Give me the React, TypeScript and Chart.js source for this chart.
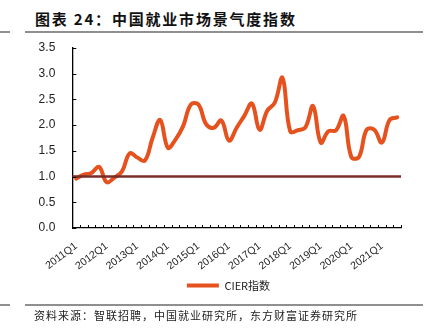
import React, { useEffect, useRef } from "react";
import { Chart, registerables } from "chart.js";

Chart.register(...registerables);

const categories = [
  "2011Q1", "2011Q2", "2011Q3", "2011Q4",
  "2012Q1", "2012Q2", "2012Q3", "2012Q4",
  "2013Q1", "2013Q2", "2013Q3", "2013Q4",
  "2014Q1", "2014Q2", "2014Q3", "2014Q4",
  "2015Q1", "2015Q2", "2015Q3", "2015Q4",
  "2016Q1", "2016Q2", "2016Q3", "2016Q4",
  "2017Q1", "2017Q2", "2017Q3", "2017Q4",
  "2018Q1", "2018Q2", "2018Q3", "2018Q4",
  "2019Q1", "2019Q2", "2019Q3", "2019Q4",
  "2020Q1", "2020Q2", "2020Q3", "2020Q4",
  "2021Q1", "2021Q2", "2021Q3",
];

const cierIndex = [
  0.96, 1.04, 1.07, 1.19,
  0.89, 0.98, 1.10, 1.45,
  1.37, 1.31, 1.75, 2.10,
  1.56, 1.72, 1.98, 2.40,
  2.40, 2.02, 1.95, 2.09,
  1.70, 1.95, 2.18, 2.42,
  1.91, 2.28, 2.44, 2.92,
  1.88, 1.90, 1.96, 2.37,
  1.66, 1.88, 1.90, 2.18,
  1.38, 1.38, 1.91, 1.91,
  1.66, 2.10, 2.15,
];

const thresholdValue = 1.0;
const yMin = 0;
const yMax = 3.5;
const yStep = 0.5;
const labelEvery = 4;

const seriesLabel = "CIER指数";
const titleText = "图表 24：中国就业市场景气度指数";
const sourceText = "资料来源：智联招聘，中国就业研究所，东方财富证券研究所";

const ORANGE = "#E6521E";
const BROWN = "#7A2C2A";
const FONT = "'Liberation Sans', Arial, sans-serif";
const CJK = "'Noto Sans CJK SC', 'Noto Sans', sans-serif";

const decorPlugin = {
  id: "decor",
  afterLayout(chart: any) {
    const lg = chart.legend;
    if (lg) {
      const shift = 24;
      lg.left += shift;
      lg.width -= shift;
    }
  },
  afterDatasetsDraw(chart: any) {
    const { ctx, chartArea, scales } = chart;
    const y = scales.y;
    ctx.save();
    const ty = y.getPixelForValue(thresholdValue);
    ctx.strokeStyle = BROWN;
    ctx.lineWidth = 2.5;
    ctx.beginPath();
    ctx.moveTo(chartArea.left, ty);
    ctx.lineTo(chartArea.right, ty);
    ctx.stroke();
    ctx.restore();
  },
  afterDraw(chart: any) {
    const { ctx, chartArea, scales } = chart;
    const x = scales.x;
    const y = scales.y;
    ctx.save();
    ctx.strokeStyle = "#000";
    ctx.lineWidth = 1;
    y.ticks.forEach((t: any) => {
      const py = Math.round(y.getPixelForValue(t.value)) + 0.5;
      ctx.beginPath();
      ctx.moveTo(chartArea.left, py);
      ctx.lineTo(chartArea.left + 4, py);
      ctx.stroke();
    });
    for (let i = 0; i <= categories.length; i++) {
      const px = Math.round(x.getPixelForValue(i - 0.5)) + 0.5;
      ctx.beginPath();
      ctx.moveTo(px, chartArea.bottom);
      ctx.lineTo(px, chartArea.bottom - 3);
      ctx.stroke();
    }
    ctx.restore();
  },
};

function ChartBox() {
  const ref = useRef<HTMLCanvasElement>(null);
  useEffect(() => {
    const canvas = ref.current;
    if (!canvas) return;
    const chart = new Chart(canvas, {
      type: "line",
      data: {
        labels: categories,
        datasets: [
          {
            label: seriesLabel,
            data: cierIndex,
            borderColor: ORANGE,
            backgroundColor: ORANGE,
            borderWidth: 4,
            pointRadius: 0,
            tension: 0.4,
            fill: false,
            borderCapStyle: "round",
            borderJoinStyle: "round",
          },
        ],
      },
      options: {
        responsive: false,
        animation: false,
        devicePixelRatio: 1,
        layout: { padding: { left: 32, right: 29, top: 8, bottom: 4 } },
        plugins: {
          legend: {
            position: "bottom",
            labels: {
              boxWidth: 32,
              boxHeight: 4,
              padding: 6,
              color: "#222",
              font: { size: 11, family: CJK },
              generateLabels: (c: any) =>
                Chart.defaults.plugins.legend.labels
                  .generateLabels(c)
                  .map((l: any) => ({ ...l, lineWidth: 0 })),
            },
          },
          tooltip: { enabled: false },
        },
        scales: {
          x: {
            offset: true,
            grid: { display: false, drawTicks: false },
            border: { display: true, color: "#000", width: 1.3 },
            ticks: {
              autoSkip: false,
              maxRotation: 37,
              minRotation: 37,
              padding: 12,
              color: "#222",
              font: { size: 10.5, family: FONT },
              callback: (_v: any, i: number) =>
                i % labelEvery === 0 ? categories[i] : "",
            },
            afterFit: (s: any) => {
              s.height = 46;
              s.paddingLeft = 0;
              s.paddingRight = 0;
            },
          },
          y: {
            min: yMin,
            max: yMax,
            grid: { display: false, drawTicks: false },
            border: { display: true, color: "#000", width: 1.3 },
            ticks: {
              stepSize: yStep,
              padding: 17,
              color: "#222",
              font: { size: 12, family: FONT },
              callback: (v: any) => Number(v).toFixed(1),
            },
            afterFit: (s: any) => {
              s.width = 40.3;
              s.paddingTop = 0;
              s.paddingBottom = 0;
            },
          },
        },
      },
      plugins: [decorPlugin],
    });
    return () => chart.destroy();
  }, []);
  return (
    <canvas
      ref={ref}
      width={430}
      height={265}
      style={{ position: "absolute", left: 0, top: 40, width: 430, height: 265 }}
    />
  );
}

export default function App() {
  return (
    <div
      style={{
        position: "relative",
        width: 430,
        height: 328,
        background: "#fff",
        overflow: "hidden",
      }}
    >
      <style>{"body{margin:0;}"}</style>
      <div
        style={{
          position: "absolute",
          left: 35,
          top: 8,
          fontFamily: CJK,
          fontWeight: 700,
          fontSize: 15,
          letterSpacing: 1.8,
          lineHeight: "22px",
          color: "#111",
          whiteSpace: "nowrap",
        }}
      >
        {titleText}
      </div>
      <div style={{ position: "absolute", left: 0, top: 31, width: 10, height: 2, background: "#8f8f8f" }} />
      <div style={{ position: "absolute", left: 25, top: 31, width: 398, height: 2, background: "#8f8f8f" }} />
      <ChartBox />
      <div style={{ position: "absolute", left: 0, top: 304, width: 10, height: 2, background: "#8f8f8f" }} />
      <div style={{ position: "absolute", left: 25, top: 304, width: 398, height: 2, background: "#8f8f8f" }} />
      <div
        style={{
          position: "absolute",
          left: 34,
          top: 307,
          fontFamily: CJK,
          fontSize: 11,
          letterSpacing: 1,
          lineHeight: "16px",
          color: "#222",
          whiteSpace: "nowrap",
        }}
      >
        {sourceText}
      </div>
    </div>
  );
}
